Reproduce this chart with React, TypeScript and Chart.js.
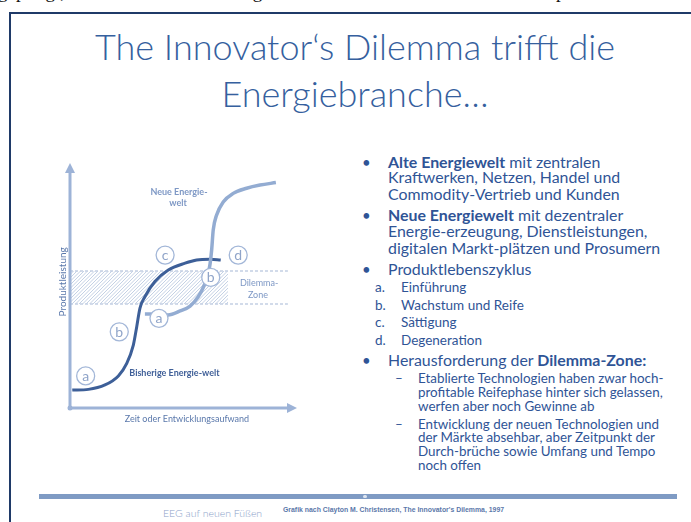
import React, { useEffect, useRef } from "react";
import { Chart, registerables } from "chart.js";
Chart.register(...registerables);

// ---- Diagram data (x: Zeit oder Entwicklungsaufwand, y: Produktleistung, 0..100) ----
const oldWorldX = [1.0, 8.1, 15.4, 21.3, 25.0, 27.9, 29.4, 30.8, 33.0, 37.4, 43.3, 50.7, 55.8, 61.7, 66.4];
const oldWorldY = [7.3, 7.6, 9.4, 13.1, 18.2, 25.7, 33.2, 40.7, 45.4, 51.6, 56.3, 59.1, 60.4, 60.7, 60.4];
const newWorldX = [33.0, 35.2, 43.2, 48.5, 52.9, 56.4, 59.0, 60.8, 61.7, 62.4, 63.1, 64.6, 67.5, 71.9, 77.8, 83.7, 90.7];
const newWorldY = [38.4, 38.4, 38.0, 39.6, 41.6, 45.3, 49.8, 54.7, 58.8, 64.5, 72.7, 78.8, 84.1, 87.6, 89.7, 91.0, 92.0];
const phaseLetters = ["a", "b", "c", "d", "a", "b"];
const phaseX = [6.9, 21.7, 41.9, 74.1, 39.2, 62.0];
const phaseY = [13.1, 31.1, 62.4, 62.4, 36.6, 53.3];
const dilemmaZone = [42.4, 55.9]; // low, high
const dilemmaHatchEnd = 69.6;
const dilemmaDashEnd = 96;
const diagramLabels = ["Neue Energie-", "welt", "Dilemma-", "Zone", "Bisherige Energie-welt"];
const diagramLabelX = [48.0, 47.6, 83.3, 82.8, 46.0];
const diagramLabelY = [88.2, 83.7, 51.0, 46.1, 14.3];
const xAxisTitle = "Zeit oder Entwicklungsaufwand";
const yAxisTitle = "Produktleistung";

const BODY = "#2f5496";

function T(props: { x: number; y: number; s: number; w?: number; c?: string; f?: string; children: React.ReactNode; center?: boolean }) {
  const { x, y, s, w = 400, c = BODY, f = "Lato, 'Open Sans', sans-serif", children, center } = props;
  const style: React.CSSProperties = {
    position: "absolute",
    top: y - 0.55 * s,
    fontSize: s,
    lineHeight: 1,
    fontWeight: w,
    color: c,
    fontFamily: f,
    whiteSpace: "nowrap",
  };
  if (center) {
    style.left = 0;
    style.width = x * 2;
    style.textAlign = "center";
  } else {
    style.left = x;
  }
  return <div style={style}>{children}</div>;
}

export default function App() {
  const ref = useRef<HTMLCanvasElement | null>(null);

  useEffect(() => {
    const canvas = ref.current;
    if (!canvas) return;

    const diagramPlugin = {
      id: "diagram",
      beforeDatasetsDraw(chart: any) {
        const { ctx, chartArea, scales } = chart;
        const xs = scales.x, ys = scales.y;
        ctx.save();
        // Dilemma zone hatch
        const x0 = chartArea.left;
        const x1 = xs.getPixelForValue(dilemmaHatchEnd);
        const yTop = ys.getPixelForValue(dilemmaZone[1]);
        const yBot = ys.getPixelForValue(dilemmaZone[0]);
        ctx.save();
        ctx.beginPath();
        ctx.rect(x0, yTop, x1 - x0, yBot - yTop);
        ctx.clip();
        ctx.strokeStyle = "#c3d0e4";
        ctx.lineWidth = 1;
        const h = yBot - yTop;
        for (let k = -h; k < x1 - x0 + h; k += 3.5) {
          ctx.beginPath();
          ctx.moveTo(x0 + k, yBot);
          ctx.lineTo(x0 + k + h, yTop);
          ctx.stroke();
        }
        ctx.restore();
        // dashed edges
        const x2 = xs.getPixelForValue(dilemmaDashEnd);
        ctx.strokeStyle = "#c3d0e4";
        ctx.lineWidth = 1.5;
        ctx.setLineDash([3, 2]);
        [yTop, yBot].forEach((yy) => {
          ctx.beginPath();
          ctx.moveTo(x0, yy);
          ctx.lineTo(x2, yy);
          ctx.stroke();
        });
        ctx.setLineDash([]);

        // Axes with arrows
        const L = chartArea.left, B = chartArea.bottom, R = chartArea.right, TOP = chartArea.top;
        ctx.strokeStyle = "#9db3d7";
        ctx.fillStyle = "#9db3d7";
        ctx.lineWidth = 3;
        ctx.beginPath();
        ctx.moveTo(L, TOP + 6);
        ctx.lineTo(L, B);
        ctx.lineTo(R - 6, B);
        ctx.stroke();
        ctx.beginPath();
        ctx.arc(L, B, 2.5, 0, Math.PI * 2);
        ctx.fill();
        ctx.beginPath();
        ctx.moveTo(L, TOP);
        ctx.lineTo(L - 5, TOP + 10);
        ctx.lineTo(L + 5, TOP + 10);
        ctx.closePath();
        ctx.fill();
        ctx.beginPath();
        ctx.moveTo(R, B);
        ctx.lineTo(R - 10, B - 5);
        ctx.lineTo(R - 10, B + 5);
        ctx.closePath();
        ctx.fill();

        // axis titles
        ctx.fillStyle = "#5a78ab";
        ctx.font = "9px Lato, sans-serif";
        ctx.textAlign = "center";
        ctx.textBaseline = "middle";
        ctx.fillText(xAxisTitle, xs.getPixelForValue(51.5), B + 11);
        ctx.save();
        ctx.translate(L - 7, ys.getPixelForValue(51.5));
        ctx.rotate(-Math.PI / 2);
        ctx.font = "10px Lato, sans-serif";
        ctx.fillText(yAxisTitle, 0, 0);
        ctx.restore();
        ctx.restore();
      },
      afterDatasetsDraw(chart: any) {
        const { ctx, scales } = chart;
        const xs = scales.x, ys = scales.y;
        ctx.save();
        ctx.textAlign = "center";
        ctx.textBaseline = "middle";
        ctx.fillStyle = "#8fa4c9";
        ctx.font = "14px Lato, sans-serif";
        phaseLetters.forEach((l, i) => {
          ctx.fillText(l, xs.getPixelForValue(phaseX[i]), ys.getPixelForValue(phaseY[i]) + 0.5);
        });
        diagramLabels.forEach((t, i) => {
          const px = xs.getPixelForValue(diagramLabelX[i]);
          const py = ys.getPixelForValue(diagramLabelY[i]);
          if (i === 4) {
            ctx.fillStyle = "#3f5f98";
            ctx.font = "bold 9px Lato, sans-serif";
          } else if (i < 2) {
            ctx.fillStyle = "#7e98c5";
            ctx.font = "bold 9px Lato, sans-serif";
          } else {
            ctx.fillStyle = "#7e98c5";
            ctx.font = "9px Lato, sans-serif";
          }
          ctx.fillText(t, px, py);
        });
        ctx.restore();
      },
    };

    const chart = new Chart(canvas, {
      type: "line",
      data: {
        datasets: [
          {
            label: "Phasen",
            data: phaseX.map((x, i) => ({ x, y: phaseY[i] })),
            showLine: false,
            pointRadius: 9,
            pointBackgroundColor: "#ffffff",
            pointBorderColor: "#a3b7d8",
            pointBorderWidth: 1.3,
            order: 0,
          },
          {
            label: "Neue Energiewelt",
            data: newWorldX.map((x, i) => ({ x, y: newWorldY[i] })),
            borderColor: "#93acd2",
            borderWidth: 3.5,
            pointRadius: 0,
            cubicInterpolationMode: "monotone",
            fill: false,
            order: 1,
          },
          {
            label: "Bisherige Energiewelt",
            data: oldWorldX.map((x, i) => ({ x, y: oldWorldY[i] })),
            borderColor: "#3d5f98",
            borderWidth: 3,
            pointRadius: 0,
            cubicInterpolationMode: "monotone",
            fill: false,
            order: 2,
          },
        ],
      },
      options: {
        responsive: false,
        maintainAspectRatio: false,
        devicePixelRatio: 1,
        animation: false,
        layout: { padding: { left: 30, right: 23, top: 13, bottom: 32 } },
        plugins: { legend: { display: false }, tooltip: { enabled: false } },
        scales: {
          x: { type: "linear", min: 0, max: 100, display: false },
          y: { type: "linear", min: 0, max: 100, display: false },
        },
      },
      plugins: [diagramPlugin],
    } as any);
    return () => chart.destroy();
  }, []);

  return (
    <div style={{ position: "absolute", left: 0, top: 0, width: 691, height: 522, overflow: "hidden", background: "#ffffff" }}>
      {/* cut-off text of the page above */}
      <div style={{ position: "absolute", left: -2, top: -19, fontFamily: "'Liberation Serif', serif", fontSize: 19, color: "#111", whiteSpace: "nowrap" }}>
        gepflegt, dass etablierte Technologien nicht weiter mit neuen Konkurrenzprodukten Schritt halten und die Komp
      </div>
      {/* slide frame */}
      <div style={{ position: "absolute", left: 9, top: 12, width: 2, height: 520, background: "#1f3a68" }} />
      <div style={{ position: "absolute", left: 9, top: 12, width: 690, height: 2, background: "#1f3a68" }} />

      {/* title */}
      <T x={355} y={48} s={36} w={300} c="#35609e" center>The Innovator‘s Dilemma trifft die</T>
      <T x={355} y={95} s={36} w={300} c="#35609e" center>Energiebranche…</T>

      {/* diagram */}
      <canvas ref={ref} width={280} height={290} style={{ position: "absolute", left: 40, top: 150, width: 280, height: 290 }} />

      {/* bullets */}
      <T x={362} y={163} s={15}>•</T>
      <T x={388} y={163} s={15.9}><b>Alte Energiewelt</b> mit zentralen</T>
      <T x={388} y={178} s={15.9}>Kraftwerken, Netzen, Handel und</T>
      <T x={388} y={195} s={15.9}>Commodity-Vertrieb und Kunden</T>
      <T x={362} y={216} s={15}>•</T>
      <T x={388} y={216} s={15.9}><b>Neue Energiewelt</b> mit dezentraler</T>
      <T x={388} y={232} s={15.9}>Energie-erzeugung, Dienstleistungen,</T>
      <T x={388} y={249} s={15.9}>digitalen Markt-plätzen und Prosumern</T>
      <T x={362} y={270} s={15}>•</T>
      <T x={388} y={270} s={15.9}>Produktlebenszyklus</T>
      <T x={375} y={288} s={13.5}>a.</T>
      <T x={401} y={288} s={13.5}>Einführung</T>
      <T x={375} y={306} s={13.5}>b.</T>
      <T x={401} y={306} s={13.5}>Wachstum und Reife</T>
      <T x={375} y={323} s={13.5}>c.</T>
      <T x={401} y={323} s={13.5}>Sättigung</T>
      <T x={375} y={341} s={13.5}>d.</T>
      <T x={401} y={341} s={13.5}>Degeneration</T>
      <T x={362} y={361} s={15}>•</T>
      <T x={388} y={361} s={15.9}>Herausforderung der <b>Dilemma-Zone:</b></T>
      <T x={395} y={379} s={13.4}>–</T>
      <T x={418} y={379} s={13.4}>Etablierte Technologien haben zwar hoch-</T>
      <T x={418} y={393} s={13.4}>profitable Reifephase hinter sich gelassen,</T>
      <T x={418} y={407} s={13.4}>werfen aber noch Gewinne ab</T>
      <T x={395} y={425} s={13.4}>–</T>
      <T x={418} y={425} s={13.4}>Entwicklung der neuen Technologien und</T>
      <T x={418} y={438} s={13.4}>der Märkte absehbar, aber Zeitpunkt der</T>
      <T x={418} y={452} s={13.4}>Durch-brüche sowie Umfang und Tempo</T>
      <T x={418} y={466} s={13.4}>noch offen</T>

      {/* footer */}
      <div style={{ position: "absolute", left: 39, top: 494, width: 638, height: 5, background: "#7f9bc4" }} />
      <div style={{ position: "absolute", left: 363, top: 495, width: 4, height: 3, borderRadius: 2, background: "#dfe6f1" }} />
      <T x={163} y={514} s={10.5} w={300} c="#8ba2c9">EEG auf neuen Füßen</T>
      <T x={283} y={511} s={6.9} w={700} c="#5b78aa" f="'Liberation Sans Narrow', 'Liberation Sans', sans-serif">Grafik nach Clayton M. Christensen, The Innovator's Dilemma, 1997</T>
    </div>
  );
}
